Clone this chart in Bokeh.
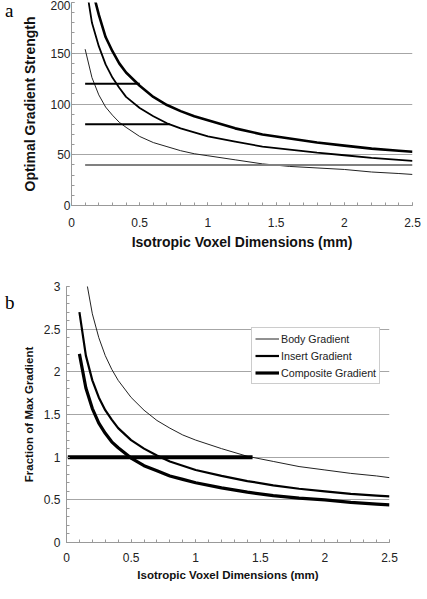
from bokeh.plotting import figure
from bokeh.layouts import column, row
from bokeh.models import FixedTicker, Range1d, Legend, LegendItem, Div
from bokeh.embed import file_html
from bokeh.resources import INLINE

# ---------------- data ----------------
# Panel a
a_x = [0.1, 0.15, 0.2, 0.25, 0.3, 0.35, 0.4, 0.5, 0.6, 0.7, 0.8, 0.9, 1.0,
       1.2, 1.4, 1.6, 1.8, 2.0, 2.2, 2.4, 2.5]
a_body = [154, 126, 109, 97, 89, 82, 77, 68, 62, 58, 54, 51, 49,
          45, 41, 38.5, 37, 35.5, 33, 31.5, 30.6]
a_insert = [222, 180, 157, 139, 126, 116, 107, 96, 88, 81, 76, 72, 68,
            63, 58, 55, 52, 49.5, 47, 45, 44]
a_composite = [262, 214, 188, 166, 152, 140, 131, 118, 107, 99, 93, 88, 84,
               76, 70, 66, 62, 59, 56, 54, 53]
a_hlines_y = [120, 80, 40]
a_hlines_x0 = [0.1, 0.1, 0.1]
a_hlines_x1 = [0.5, 0.72, 2.5]
a_yticks = [0, 50, 100, 150, 200]
a_xticks = [0, 0.5, 1, 1.5, 2, 2.5]

# Panel b
b_x = [0.1, 0.15, 0.2, 0.25, 0.3, 0.35, 0.4, 0.5, 0.6, 0.7, 0.8, 0.9, 1.0,
       1.2, 1.4, 1.6, 1.8, 2.0, 2.2, 2.4, 2.5]
b_body = [3.79, 3.10, 2.68, 2.40, 2.19, 2.03, 1.90, 1.70, 1.55, 1.43, 1.34, 1.26, 1.20,
          1.10, 1.01, 0.95, 0.89, 0.85, 0.81, 0.78, 0.76]
b_insert = [2.70, 2.19, 1.90, 1.70, 1.55, 1.44, 1.34, 1.20, 1.10, 1.02, 0.95, 0.90, 0.85,
            0.78, 0.72, 0.67, 0.63, 0.60, 0.57, 0.55, 0.54]
b_composite = [2.21, 1.81, 1.57, 1.40, 1.28, 1.18, 1.11, 0.99, 0.90, 0.84, 0.78, 0.74, 0.70,
               0.64, 0.59, 0.55, 0.52, 0.50, 0.47, 0.45, 0.44]
b_hline_y = 1.0
b_hline_x = [0.01, 1.44]
b_yticks = [0, 0.5, 1, 1.5, 2, 2.5, 3]
b_xticks = [0, 0.5, 1, 1.5, 2, 2.5]
series_names = ["Body Gradient", "Insert Gradient", "Composite Gradient"]
panel_letters = ["a", "b"]

FONT = "Liberation Sans"
GRID = "#a6a6a6"
AXIS = "#999999"


def style(p, xticks, yticks, xminor, yminor, tick_fs, title_fs):
    p.outline_line_color = None
    p.background_fill_color = "white"
    p.xgrid.grid_line_color = None
    p.ygrid.grid_line_color = GRID
    p.ygrid.grid_line_width = 1
    p.xaxis.ticker = FixedTicker(ticks=xticks, minor_ticks=xminor)
    p.yaxis.ticker = FixedTicker(ticks=yticks, minor_ticks=yminor)
    for ax in (p.xaxis[0], p.yaxis[0]):
        ax.axis_line_color = AXIS
        ax.major_tick_line_color = AXIS
        ax.minor_tick_line_color = AXIS
        ax.major_tick_in = 3
        ax.major_tick_out = 0
        ax.minor_tick_in = 3
        ax.minor_tick_out = 0
        ax.major_label_text_font = FONT
        ax.major_label_text_font_size = tick_fs
        ax.major_label_text_color = "#222222"
        ax.axis_label_text_font = FONT
        ax.axis_label_text_font_style = "bold"
        ax.axis_label_text_font_size = title_fs
        ax.axis_label_text_color = "#111111"


def letter(txt, pad_top, height):
    return Div(text=('<div style="font-family:\'Liberation Serif\';font-size:19px;'
                     'line-height:10px;padding-top:%dpx;">%s</div>' % (pad_top, txt)),
               width=9, height=height)


# ---------------- panel a ----------------
pa = figure(width=402, height=252, output_backend="svg", toolbar_location=None,
            x_range=Range1d(0, 2.5), y_range=Range1d(0, 200),
            min_border_left=47, min_border_right=9, min_border_top=2, min_border_bottom=45)
style(pa, a_xticks, a_yticks,
      [round(i * 0.1, 1) for i in range(26)], list(range(0, 201, 10)), "12px", "14px")
pa.xaxis.axis_label = "Isotropic Voxel Dimensions (mm)"
pa.yaxis.axis_label = "Optimal Gradient Strength"
pa.xaxis.major_label_standoff = 12
pa.xaxis.axis_label_standoff = 4
pa.yaxis.major_label_standoff = 1
pa.yaxis.axis_label_standoff = 9

pa.line(a_x, a_body, line_color="#222222", line_width=1)
pa.line(a_x, a_insert, line_color="black", line_width=1.8)
pa.line(a_x, a_composite, line_color="black", line_width=2.6)
pa.segment(x0=a_hlines_x0[:2], y0=a_hlines_y[:2], x1=a_hlines_x1[:2], y1=a_hlines_y[:2],
           line_color="black", line_width=2)
pa.segment(x0=a_hlines_x0[2:], y0=a_hlines_y[2:], x1=a_hlines_x1[2:], y1=a_hlines_y[2:],
           line_color="#808080", line_width=2)

# ---------------- panel b ----------------
pb = figure(width=402, height=331, output_backend="svg", toolbar_location=None,
            x_range=Range1d(0, 2.5), y_range=Range1d(0, 3),
            min_border_left=42, min_border_right=32, min_border_top=34, min_border_bottom=34)
style(pb, b_xticks, b_yticks,
      [round(i * 0.1, 1) for i in range(26)], [round(i * 0.1, 1) for i in range(31)],
      "12px", "11.5px")
pb.xaxis.axis_label = "Isotropic Voxel Dimensions (mm)"
pb.yaxis.axis_label = "Fraction of Max Gradient"
pb.xaxis.major_label_standoff = 10
pb.xaxis.axis_label_standoff = 4
pb.yaxis.major_label_standoff = 6
pb.yaxis.axis_label_standoff = 6

r1 = pb.line(b_x, b_body, line_color="#222222", line_width=1)
r2 = pb.line(b_x, b_insert, line_color="black", line_width=2.2)
r3 = pb.line(b_x, b_composite, line_color="black", line_width=3.2)
pb.line(b_hline_x, [b_hline_y, b_hline_y], line_color="black", line_width=4)

legend = Legend(items=[LegendItem(label=series_names[0], renderers=[r1]),
                       LegendItem(label=series_names[1], renderers=[r2]),
                       LegendItem(label=series_names[2], renderers=[r3])],
                location=(185, 158), orientation="vertical",
                label_text_font=FONT, label_text_font_size="10.7px",
                label_text_color="#222222",
                glyph_width=24, glyph_height=15, label_height=15, spacing=2,
                padding=3, margin=0, label_standoff=2,
                border_line_color="#999999", border_line_width=1,
                background_fill_color="white", background_fill_alpha=1)
pb.add_layout(legend, "center")

layout = column(row(letter(panel_letters[0], 0, 20), pa, spacing=0),
                row(letter(panel_letters[1], 41, 60), pb, spacing=0),
                spacing=0)
open("out.html", "w").write(file_html(layout, INLINE))
